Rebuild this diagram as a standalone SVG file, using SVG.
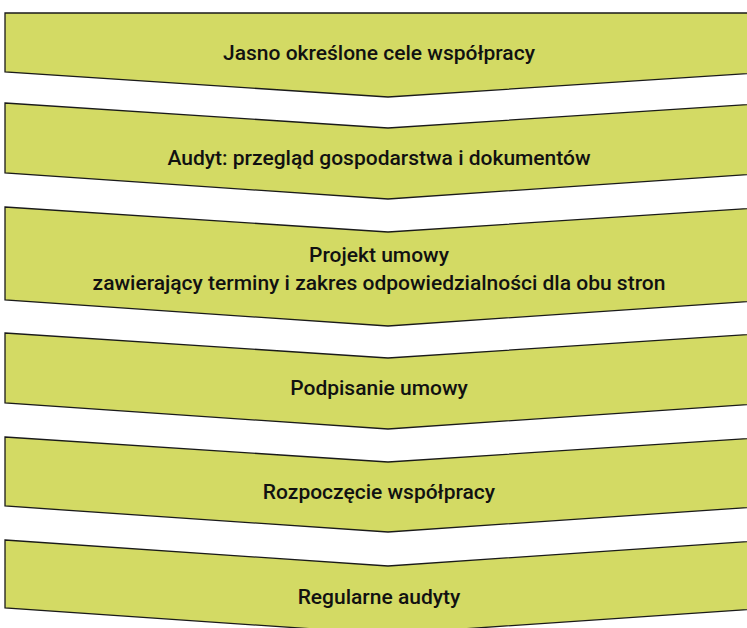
<svg xmlns="http://www.w3.org/2000/svg" width="747" height="628" viewBox="0 0 747 628">
<style>
.s{fill:#d3da64;stroke:#1a1a1a;stroke-width:1.3;stroke-linejoin:miter}
.t{font-family:Roboto,"Liberation Sans",sans-serif;font-size:21px;font-weight:500;fill:#111;text-anchor:middle}
</style>
<rect width="747" height="628" fill="#fff"/>
<g id="n1"><path class="s" d="M5,13 L771,13 L771,72 L388,97 L5,72 Z"/><text class="t" x="379" y="60">Jasno określone cele współpracy</text></g>
<g id="n2"><path class="s" d="M5,103 L388,128 L771,103 L771,173 L388,199 L5,173 Z"/><text class="t" x="379" y="165">Audyt: przegląd gospodarstwa i dokumentów</text></g>
<g id="n3"><path class="s" d="M5,207 L388,232 L771,207 L771,300 L388,326 L5,300 Z"/><text class="t" x="379" y="262">Projekt umowy</text><text class="t" x="379" y="290">zawierający terminy i zakres odpowiedzialności dla obu stron</text></g>
<g id="n4"><path class="s" d="M5,333 L388,358 L771,333 L771,403 L388,429 L5,403 Z"/><text class="t" x="379" y="395">Podpisanie umowy</text></g>
<g id="n5"><path class="s" d="M5,437 L388,462 L771,437 L771,506 L388,532 L5,506 Z"/><text class="t" x="379" y="499">Rozpoczęcie współpracy</text></g>
<g id="n6"><path class="s" d="M5,540 L388,566 L771,540 L771,608 L388,634 L5,608 Z"/><text class="t" x="379" y="604">Regularne audyty</text></g>
<g id="connectors"></g>
</svg>
